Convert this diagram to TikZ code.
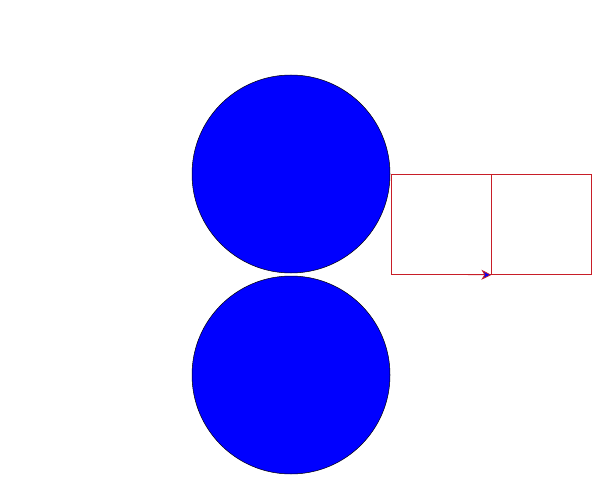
\documentclass[tikz,border=0pt]{standalone}
\usetikzlibrary{arrows.meta}
\begin{document}
\begin{tikzpicture}[x=1pt,y=-1pt,
  ball/.style={circle,draw=black,line width=0.5pt,fill=blue,minimum size=198pt,inner sep=0pt},
  cell/.style={rectangle,draw={rgb,255:red,200;green,30;blue,40},line width=0.8pt,minimum width=100pt,minimum height=100pt,inner sep=0pt}]
\useasboundingbox (0,0) rectangle (599,486);
\node[ball] (top) at (291,174) {};
\node[ball] (bot) at (291,375) {};
\node[cell] (left) at (441,224.5) {};
\node[cell] (right) at (541,224.5) {};
\coordinate (start) at (460,274.5);
\draw[draw={rgb,255:red,200;green,30;blue,40},line width=0.8pt,-{Stealth[length=10pt,width=10pt,inset=3pt,fill=blue]}] (start) -- (left.south east);
\end{tikzpicture}
\end{document}
